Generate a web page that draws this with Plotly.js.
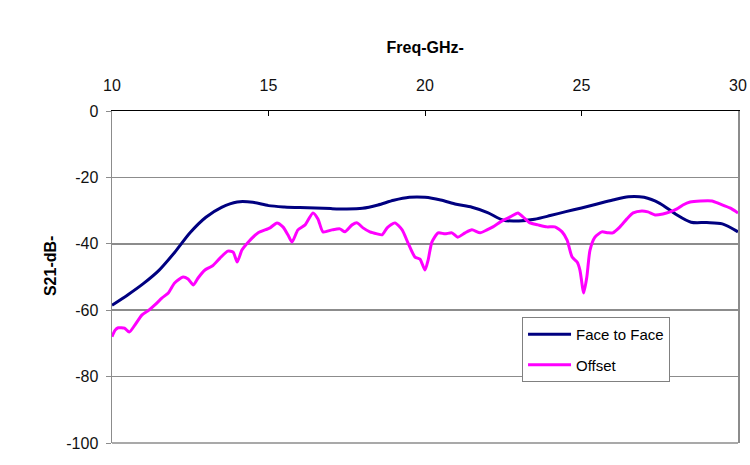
<!DOCTYPE html>
<html>
<head>
<meta charset="utf-8">
<script src="https://cdn.plot.ly/plotly-3.0.1.min.js"></script>
<style>html,body{margin:0;padding:0;background:#fff;}#chart{width:750px;height:465px;}</style>
</head>
<body>
<div id="chart"></div>
<script>
const seriesNames = ["Face to Face", "Offset"];

const faceFreq = [10.0,10.5,11.0,11.5,12.0,12.5,13.0,13.5,14.0,14.5,15.0,15.5,16.0,16.5,17.0,17.5,18.0,18.5,19.0,19.5,20.0,20.5,21.0,21.5,22.0,22.5,23.0,23.5,24.0,24.5,25.0,25.5,26.0,26.5,27.0,27.5,28.0,28.5,29.0,29.5,30.0];
const faceS21 = [-58.5,-55.4,-52.0,-48.0,-42.6,-36.6,-32.0,-29.0,-27.4,-27.5,-28.5,-28.9,-29.1,-29.2,-29.4,-29.5,-29.3,-28.3,-26.9,-26.0,-26.0,-26.8,-28.1,-29.0,-30.6,-32.9,-33.1,-32.6,-31.5,-30.3,-29.2,-28.0,-26.8,-25.8,-26.0,-27.8,-31.0,-33.5,-33.6,-34.0,-36.4];

const offsetFreq = [10.0,10.1,10.2,10.4,10.55,10.73,10.96,11.15,11.37,11.6,11.8,12.0,12.27,12.43,12.6,12.75,12.97,13.2,13.45,13.7,13.87,14.0,14.15,14.35,14.67,15.05,15.27,15.46,15.62,15.75,15.94,16.17,16.42,16.58,16.74,17.03,17.28,17.44,17.67,17.83,18.02,18.24,18.47,18.63,18.79,19.04,19.27,19.46,19.68,19.84,20.0,20.1,20.22,20.42,20.64,20.86,21.05,21.28,21.5,21.76,21.98,22.17,22.46,22.72,22.97,23.13,23.35,23.61,23.9,24.15,24.38,24.54,24.7,24.86,24.95,25.07,25.17,25.27,25.43,25.65,25.85,26.0,26.23,26.45,26.65,26.93,27.12,27.35,27.6,27.83,28.05,28.24,28.47,28.8,29.17,29.42,29.74,30.0];
const offsetS21 = [-68,-66,-65.3,-65.4,-66.6,-64.5,-61.4,-60.2,-58.4,-56.3,-54.8,-51.8,-50,-50.6,-52.4,-50.3,-47.9,-46.7,-44.3,-42.2,-42.5,-45.5,-41.9,-39.5,-36.7,-35.2,-33.7,-34.9,-37.3,-39.5,-35.8,-34.3,-30.7,-32.5,-36.4,-35.8,-35.5,-36.4,-34.3,-33.7,-35.2,-36.4,-37,-37.3,-35.2,-33.7,-35.8,-39.8,-44,-44.6,-47.9,-44.9,-39.5,-36.7,-37,-36.7,-38,-36.7,-35.8,-36.7,-35.8,-34.9,-33.1,-31.9,-30.7,-31.9,-33.7,-34.3,-34.9,-34.9,-36.4,-38.9,-44,-45.5,-47.9,-54.8,-50,-42,-38,-36.4,-36.7,-36.7,-34.9,-32.5,-30.7,-30.1,-30.4,-31.3,-31,-30.4,-29.5,-28.3,-27.4,-27.1,-27.1,-28,-29.2,-30.7];

const xTicks = [10, 15, 20, 25, 30];
const yTicks = [0, -20, -40, -60, -80, -100];

const traces = [
  {x: faceFreq, y: faceS21, name: seriesNames[0], type: "scatter", mode: "lines",
   line: {color: "#000080", width: 3, shape: "spline", smoothing: 0.8}, legendgroup: "a"},
  {x: offsetFreq, y: offsetS21, name: seriesNames[1], type: "scatter", mode: "lines",
   line: {color: "#FF00FF", width: 3, shape: "spline", smoothing: 0.6}, legendgroup: "b"}
];

const layout = {
  width: 750, height: 465,
  margin: {l: 112, r: 12, t: 111, b: 22},
  paper_bgcolor: "#fff", plot_bgcolor: "#fff",
  font: {family: "Arial, Liberation Sans, sans-serif", size: 16, color: "#000"},
  title: {text: "<b>Freq-GHz-</b>", font: {size: 16, color: "#000"},
          x: 0.567, xref: "container", xanchor: "center", y: 0.897, yref: "container", yanchor: "middle"},
  xaxis: {
    side: "top", range: [10, 30], tickvals: xTicks, ticktext: xTicks.map(String),
    showgrid: false, zeroline: false, showline: true, linecolor: "#000", linewidth: 1.5,
    ticks: "inside", ticklen: 5, tickcolor: "#000", tickfont: {size: 16, color: "#111"},
    ticklabelstandoff: 12
  },
  yaxis: {
    range: [-100, 0], tickvals: yTicks, ticktext: yTicks.map(String),
    showgrid: true, gridcolor: "#8c8c8c", gridwidth: 1.5, zeroline: false,
    showline: true, linecolor: "#8c8c8c", linewidth: 1.5, mirror: true,
    ticks: "outside", ticklen: 5, tickcolor: "#8c8c8c", tickfont: {size: 16, color: "#111"},
    ticklabelstandoff: 4
  },
  annotations: [{
    text: "<b>S21-dB-</b>", textangle: -90, showarrow: false,
    xref: "paper", yref: "paper", x: -0.099, y: 0.533, xanchor: "center", yanchor: "middle",
    font: {size: 16, color: "#000"}
  }],
  shapes: [{
    type: "line", xref: "paper", yref: "paper", x0: 0, x1: 1, y0: 0, y1: 0,
    line: {color: "#8c8c8c", width: 1.5}
  }],
  legend: {
    x: 0.655, y: 0.3795, xanchor: "left", yanchor: "top",
    bgcolor: "#fff", bordercolor: "#808080", borderwidth: 1,
    font: {size: 15, color: "#000"}, traceorder: "grouped", tracegroupgap: 8,
    itemwidth: 43, entrywidth: 138
  },
  showlegend: true
};

Plotly.newPlot("chart", traces, layout, {displayModeBar: false, staticPlot: true});
</script>
</body>
</html>
